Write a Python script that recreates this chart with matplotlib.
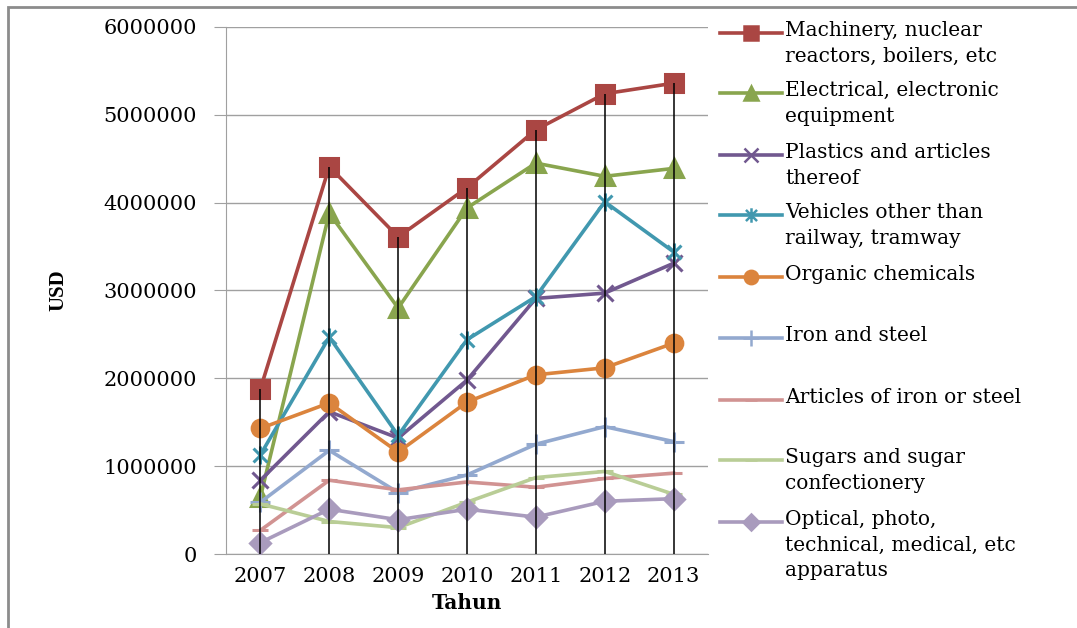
import matplotlib.pyplot as plt
import numpy as np
from matplotlib.lines import Line2D
from matplotlib.patches import Rectangle
from matplotlib.path import Path

years = ['2007', '2008', '2009', '2010', '2011', '2012', '2013']

machinery = [1880000, 4410000, 3610000, 4170000, 4830000, 5240000, 5360000]
electrical = [650000, 3880000, 2800000, 3940000, 4450000, 4300000, 4390000]
plastics = [840000, 1620000, 1320000, 1980000, 2910000, 2970000, 3310000]
vehicles = [1130000, 2470000, 1350000, 2440000, 2930000, 4010000, 3440000]
organic = [1430000, 1720000, 1160000, 1730000, 2040000, 2120000, 2400000]
iron_steel = [590000, 1180000, 700000, 900000, 1250000, 1450000, 1280000]
articles_iron = [270000, 840000, 730000, 820000, 760000, 860000, 920000]
sugars = [570000, 370000, 300000, 590000, 870000, 940000, 680000]
optical = [130000, 510000, 390000, 510000, 420000, 600000, 630000]

labels = ['Machinery, nuclear\nreactors, boilers, etc',
          'Electrical, electronic\nequipment',
          'Plastics and articles\nthereof',
          'Vehicles other than\nrailway, tramway',
          'Organic chemicals',
          'Iron and steel',
          'Articles of iron or steel',
          'Sugars and sugar\nconfectionery',
          'Optical, photo,\ntechnical, medical, etc\napparatus']

# excel star marker: x with a vertical bar
star = Path([(-1, -1), (1, 1), (-1, 1), (1, -1), (0, -1.3), (0, 1.3)],
            [Path.MOVETO, Path.LINETO, Path.MOVETO, Path.LINETO, Path.MOVETO, Path.LINETO])

series = [machinery, electrical, plastics, vehicles, organic,
          iron_steel, articles_iron, sugars, optical]
colors = ['#AA4643', '#89A54E', '#71588F', '#4198AF', '#DB843D',
          '#93A9CF', '#D19392', '#B9CD96', '#A99BBD']
markers = ['s', '^', 'x', star, 'o', '+', '_', '_', 'D']
msizes = [13, 13, 12, 13, 12, 14, 11, 11, 10]

W, H = 1077, 628
fig = plt.figure(figsize=(W / 100, H / 100), dpi=100)
ax = fig.add_axes([226 / W, 1 - 554 / H, (708 - 226) / W, (554 - 27) / H])

x = np.arange(len(years))
for vals, c, m, ms in zip(series, colors, markers, msizes):
    ax.plot(x, vals, color=c, lw=2.6, marker=m, ms=ms, mew=2.2,
            mec=c, mfc=c, zorder=3)

# drop lines
tops = np.max(np.array(series), axis=0)
ax.vlines(x, 0, tops, color='black', lw=1.1, zorder=5)

ax.set_xlim(-0.5, 6.5)
ax.set_ylim(0, 6000000)
ax.set_yticks(np.arange(0, 6000001, 1000000))
ax.set_yticklabels([str(v) for v in range(0, 6000001, 1000000)])
ax.set_xticks(x)
ax.set_xticklabels(years)
ax.grid(axis='y', color='#A0A0A0', lw=1)
ax.set_axisbelow(True)
for s in ['top', 'right']:
    ax.spines[s].set_visible(False)
for s in ['left', 'bottom']:
    ax.spines[s].set_color('#A0A0A0')
ax.tick_params(axis='y', length=9, color='#A0A0A0', pad=12, labelsize=15)
ax.tick_params(axis='x', length=0, pad=9, labelsize=15)
for t in ax.get_xticklabels() + ax.get_yticklabels():
    t.set_fontfamily('DejaVu Serif')

fig.text(58 / W, 1 - 290 / H, 'USD', rotation=90, ha='center', va='center',
         fontsize=15, fontweight='bold', family='Liberation Serif')
fig.text(467 / W, 1 - 603 / H, 'Tahun', ha='center', va='center',
         fontsize=14.5, fontweight='bold', family='DejaVu Serif')

# legend drawn by hand to keep Excel's even spacing
ys = [33, 93, 155, 215, 277, 338, 400, 460, 522]
for lab, c, m, ms, yy in zip(labels, colors, markers, msizes, ys):
    fy = 1 - yy / H
    fig.add_artist(Line2D([720 / W, 782 / W], [fy, fy], color=c, lw=2.6))
    fig.add_artist(Line2D([751 / W], [fy], color=c, marker=m, ms=ms * 0.8,
                          mew=1.8, mec=c, mfc=c))
    fig.text(785 / W, 1 - (yy - 12) / H, lab, ha='left', va='top',
             fontsize=14.5, family='DejaVu Serif', linespacing=1.45)

# outer chart frame
fig.add_artist(Rectangle((8 / W, -0.1), 1.2, 1 - 7 / H + 0.1, fill=False,
                         ec='#8C8C8C', lw=2, transform=fig.transFigure))

fig.savefig('out.png', dpi=100)
